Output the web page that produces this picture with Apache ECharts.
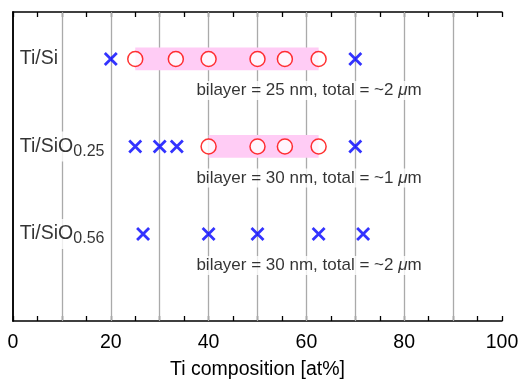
<!DOCTYPE html>
<html>
<head>
<meta charset="utf-8">
<script src="https://cdn.jsdelivr.net/npm/echarts@6/dist/echarts.min.js"></script>
<style>
  html, body { margin: 0; padding: 0; background: #fff; }
  #main { width: 519px; height: 381px; }
</style>
</head>
<body>
<div id="main"></div>
<script>
// rows (1 = top)
const rowNames = ["Ti/Si", "Ti/SiO0.25", "Ti/SiO0.56"];
const rowLabels = ["Ti/Si", "Ti/SiO{s|0.25}", "Ti/SiO{s|0.56}"];
const notes = [
    "bilayer = 25 nm, total = ~2 {i|μ}m",
    "bilayer = 30 nm, total = ~1 {i|μ}m",
    "bilayer = 30 nm, total = ~2 {i|μ}m",
];
// red circles, per row
const circles = [
    [25, 33.3, 40, 50, 55.6, 62.5],
    [40, 50, 55.6, 62.5],
    [],
];
// blue crosses, per row
const crosses = [
    [20, 70],
    [25, 30, 33.5, 70],
    [26.6, 40, 50, 62.5, 71.6],
];
// highlighted ranges, per row
const bands = [
    [25, 62.5],
    [40, 62.5],
    null,
];
const gridLines = [10, 20, 30, 40, 50, 60, 70, 80, 90];
const xTicks = [0, 20, 40, 60, 80, 100];

const font = "Liberation Sans, Arial, Helvetica, sans-serif";
const chart = echarts.init(document.getElementById("main"));

const circleData = [], crossData = [], bandAreas = [];
circles.forEach((r, i) => r.forEach((x) => circleData.push([x, i + 1])));
crosses.forEach((r, i) => r.forEach((x) => crossData.push([x, i + 1])));
bands.forEach((b, i) => {
    if (b) bandAreas.push([{ xAxis: b[0], yAxis: i + 1 - 0.13 }, { xAxis: b[1], yAxis: i + 1 + 0.13 }]);
});

const crossPath = "path://M0,0L10,10M10,0L0,10";

const axisCommon = {
    type: "value", min: 0, max: 100, interval: 5,
    axisLine: { lineStyle: { color: "#000", width: 1.5 } },
    axisTick: { inside: true, length: 5, lineStyle: { color: "#000", width: 1.3 } },
    splitLine: { show: false },
};

const option = {
    animation: false,
    backgroundColor: "#fff",
    grid: { left: 13, right: 17, top: 12, bottom: 60, outerBoundsMode: "none", containLabel: false },
    xAxis: [
        Object.assign({}, axisCommon, {
            position: "bottom",
            name: "Ti composition [at%]",
            nameLocation: "middle",
            nameGap: 39,
            nameTextStyle: { fontFamily: font, fontSize: 19.5, color: "#000" },
            axisLabel: {
                fontFamily: font, fontSize: 19.5, color: "#000", margin: 12,
                formatter: (v) => (xTicks.indexOf(v) >= 0 ? String(v) : ""),
            },
        }),
        Object.assign({}, axisCommon, { position: "top", axisLabel: { show: false } }),
    ],
    yAxis: [
        {
            type: "value", inverse: true, min: 0.463, max: 3.995,
            axisLine: { show: true, lineStyle: { color: "#000", width: 1.5 } },
            axisTick: { show: false }, axisLabel: { show: false }, splitLine: { show: false },
        },
        {
            type: "value", position: "right", inverse: true, min: 0.463, max: 3.995,
            axisLine: { show: true, lineStyle: { color: "#000", width: 1.5 } },
            axisTick: { show: false }, axisLabel: { show: false }, splitLine: { show: false },
        },
    ],
    series: [
        {
            type: "scatter", data: [], z: 1, silent: true,
            markLine: {
                silent: true, symbol: "none", z: 1, label: { show: false },
                lineStyle: { color: "#aaa", width: 1.3, type: "solid" },
                emphasis: { disabled: true },
                data: gridLines.map((x) => ({ xAxis: x })),
            },
        },
        {
            type: "scatter", data: [], z: 2, silent: true,
            markArea: {
                silent: true, z: 2,
                itemStyle: { color: "#ffccf5" },
                data: bandAreas,
            },
        },
        {
            name: "labels", type: "scatter", z: 6, symbolSize: 0, silent: true,
            data: rowNames.map((n, i) => [1.4, i + 1]),
            label: {
                show: true, position: "right", distance: 0,
                formatter: (p) => rowLabels[p.dataIndex],
                fontFamily: font, fontSize: 19.5, color: "#000",
                backgroundColor: "#fff", padding: [2, 2, 2, 0],
                rich: { s: { fontFamily: font, fontSize: 16, color: "#000", verticalAlign: "bottom", padding: [10, 0, 0, 0] } },
            },
        },
        {
            name: "notes", type: "scatter", z: 6, symbolSize: 0, silent: true,
            data: notes.map((n, i) => [37.3, i + 1 + 0.36]),
            label: {
                show: true, position: "right", distance: 0,
                formatter: (p) => notes[p.dataIndex],
                fontFamily: font, fontSize: 17, color: "#000",
                backgroundColor: "#fff", padding: [1, 1, 1, 1],
                rich: { i: { fontFamily: font, fontSize: 17, fontStyle: "italic", color: "#000" } },
            },
        },
        {
            name: "crosses", type: "scatter", z: 7, silent: true,
            data: crossData,
            symbol: crossPath, symbolSize: 12,
            itemStyle: { color: "none", borderColor: "#0000ff", borderWidth: 2.8 },
        },
        {
            name: "circles", type: "scatter", z: 7, silent: true,
            data: circleData,
            symbol: "circle", symbolSize: 15,
            itemStyle: { color: "#fff", borderColor: "#ff0000", borderWidth: 1.5 },
        },
    ],
};
chart.setOption(option);
</script>
</body>
</html>
